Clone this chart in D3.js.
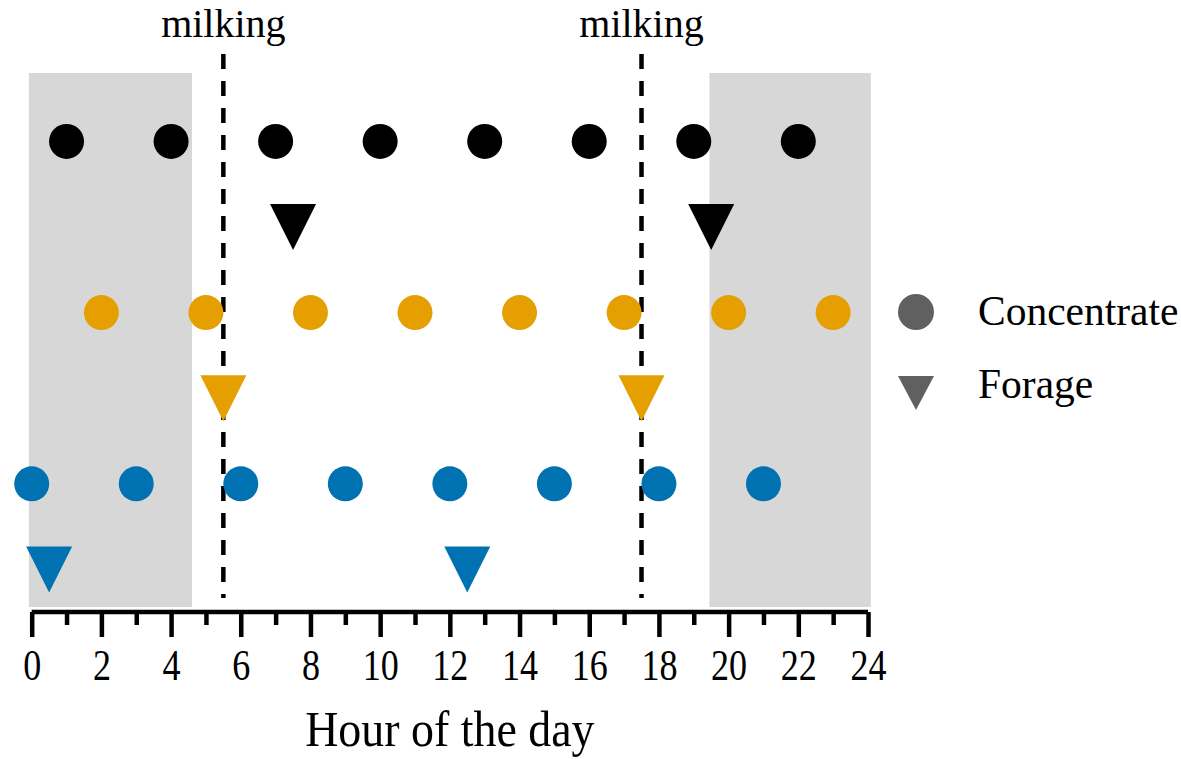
<!DOCTYPE html>
<html><head><meta charset="utf-8">
<script src="https://cdn.jsdelivr.net/npm/d3@7"></script>
<style>body{margin:0;background:#fff}svg{display:block}text{font-family:"Liberation Serif","Times New Roman",serif;fill:#000}</style>
</head><body><svg id="c" width="1181" height="759"></svg>
<script>
// ---- data ----
const blackConcentrate = [1, 4, 7, 10, 13, 16, 19, 22];
const blackForage = [7.5, 19.5];
const orangeConcentrate = [2, 5, 8, 11, 14, 17, 20, 23];
const orangeForage = [5.5, 17.5];
const blueConcentrate = [0, 3, 6, 9, 12, 15, 18, 21];
const blueForage = [0.5, 12.5];
const milkingTimes = [5.5, 17.5];
const darkPeriods = [[-0.08, 4.6], [19.45, 24.08]];
const tickValues = [0, 2, 4, 6, 8, 10, 12, 14, 16, 18, 20, 22, 24];
const minorTicks = [1, 3, 5, 7, 9, 11, 13, 15, 17, 19, 21, 23];
const legendItems = ["Concentrate", "Forage"];

const series = [
  {vals: blackConcentrate, row: 6, shape: "circle", color: "#000000"},
  {vals: blackForage, row: 5, shape: "tri", color: "#000000"},
  {vals: orangeConcentrate, row: 4, shape: "circle", color: "#E69F00"},
  {vals: orangeForage, row: 3, shape: "tri", color: "#E69F00"},
  {vals: blueConcentrate, row: 2, shape: "circle", color: "#0072B2"},
  {vals: blueForage, row: 1, shape: "tri", color: "#0072B2"}
];

const svg = d3.select("#c");
const x = d3.scaleLinear().domain([0, 24]).range([31.7, 868]);
const y = d3.scaleLinear().domain([0, 7]).range([655, 55.8]);
const axisY = 612;

// gray night shading
svg.selectAll("rect.dark").data(darkPeriods).enter().append("rect")
  .attr("x", d => x(d[0])).attr("width", d => x(d[1]) - x(d[0]))
  .attr("y", 73).attr("height", 607 - 73).attr("fill", "#D7D7D7");

// milking dashed lines
svg.selectAll("line.milk").data(milkingTimes).enter().append("line")
  .attr("x1", d => x(d)).attr("x2", d => x(d))
  .attr("y1", 54).attr("y2", 598)
  .attr("stroke", "#000").attr("stroke-width", 4.5).attr("stroke-dasharray", "15,12");
svg.selectAll("text.milk").data(milkingTimes).enter().append("text")
  .attr("x", d => x(d)).attr("y", 37).attr("text-anchor", "middle")
  .attr("font-size", 40).text("milking");

const tri = (cx, cy, h) => `M${cx - h},${cy - h}L${cx + h},${cy - h}L${cx},${cy + h}Z`;

series.forEach(s => {
  const g = svg.append("g");
  if (s.shape === "circle") {
    g.selectAll("circle").data(s.vals).enter().append("circle")
      .attr("cx", d => x(d)).attr("cy", y(s.row)).attr("r", 17.5).attr("fill", s.color);
  } else {
    g.selectAll("path").data(s.vals).enter().append("path")
      .attr("d", d => tri(x(d), y(s.row), 23)).attr("fill", s.color);
  }
});

// axis
const ax = svg.append("g").attr("transform", `translate(0,${axisY})`)
  .call(d3.axisBottom(x).tickValues(tickValues).tickSize(25).tickPadding(12).tickFormat(d3.format("d")));
ax.select(".domain").attr("stroke", "#000").attr("stroke-width", 4.5)
  .attr("d", `M${x(0)},0H${x(24)}`);
ax.selectAll(".tick line").attr("stroke", "#000").attr("stroke-width", 4.5);
ax.selectAll(".tick text").attr("font-size", 44).attr("font-family", "Liberation Serif")
  .attr("fill", "#000").attr("transform", "scale(0.82,1)");
const minorAx = svg.append("g").attr("transform", `translate(0,${axisY})`)
  .call(d3.axisBottom(x).tickValues(minorTicks).tickSize(13).tickFormat(""));
minorAx.select(".domain").remove();
minorAx.selectAll(".tick line").attr("stroke", "#000").attr("stroke-width", 4.5);

svg.append("text").attr("transform", `translate(${(x(0) + x(24)) / 2},746) scale(0.9,1)`)
  .attr("text-anchor", "middle").attr("font-size", 51).text("Hour of the day");

// legend
const lg = svg.append("g");
lg.append("circle").attr("cx", 916).attr("cy", 312).attr("r", 18).attr("fill", "#606060");
lg.append("path").attr("d", `M898,376L934,376L916,410Z`).attr("fill", "#606060");
lg.selectAll("text").data(legendItems).enter().append("text")
  .attr("x", 978).attr("y", (d, i) => i === 0 ? 325 : 398)
  .attr("font-size", 41.5).text(d => d);
</script></body></html>
